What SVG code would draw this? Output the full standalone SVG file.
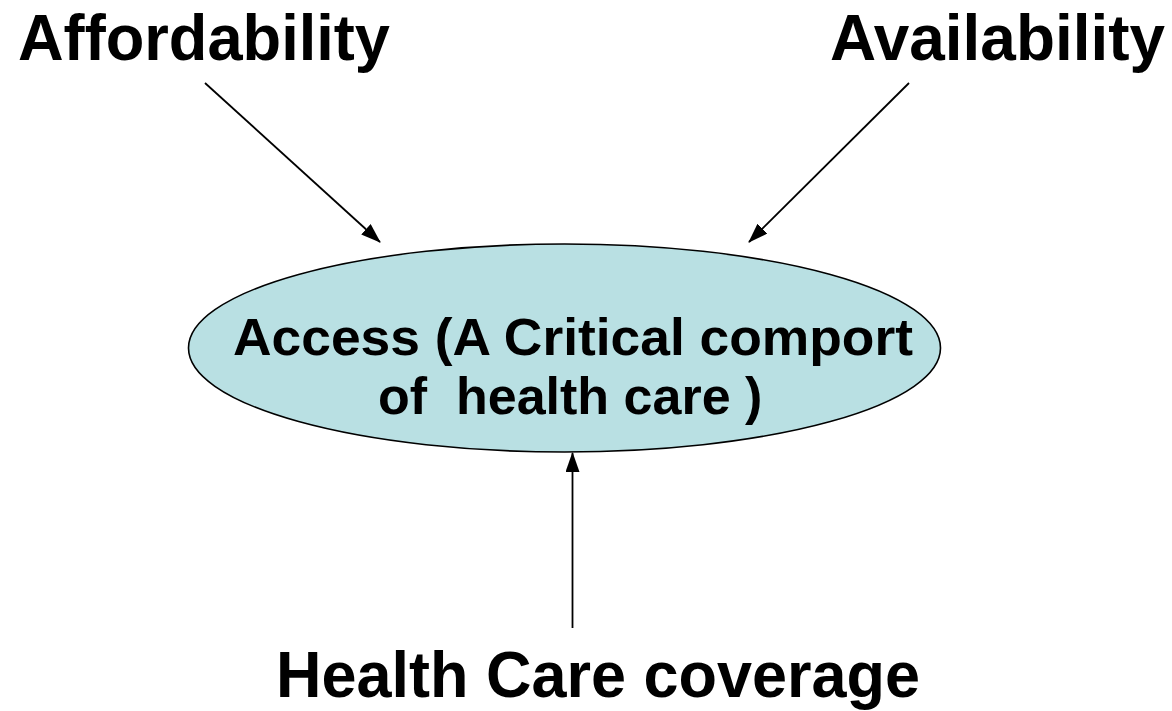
<svg xmlns="http://www.w3.org/2000/svg" width="1172" height="711" viewBox="0 0 1172 711">
<style>
.lbl{font-family:"Liberation Sans",Arial,sans-serif;font-weight:bold;fill:#000}
.conn{stroke:#000;stroke-width:1.8;fill:none;marker-end:url(#ah)}
</style>
<defs>
<marker id="ah" markerWidth="20" markerHeight="14" refX="19" refY="7" orient="auto" markerUnits="userSpaceOnUse" viewBox="0 0 20 14">
<path d="M0,0 L20,7 L0,14 z" fill="#000"/>
</marker>
</defs>
<rect width="1172" height="711" fill="#fff"/>
<g id="affordability"><text class="lbl" x="18" y="60" font-size="64" textLength="372" lengthAdjust="spacingAndGlyphs">Affordability</text></g>
<g id="availability"><text class="lbl" x="830" y="60" font-size="64" textLength="335" lengthAdjust="spacingAndGlyphs">Availability</text></g>
<g id="access">
<ellipse cx="564.5" cy="348" rx="376" ry="104" fill="#b9e0e3" stroke="#000" stroke-width="1.6"/>
<text class="lbl" x="233" y="355" font-size="52" textLength="680" lengthAdjust="spacingAndGlyphs">Access (A Critical comport</text>
<text class="lbl" x="378" y="414" font-size="52" xml:space="preserve">of  health care )</text>
</g>
<g id="coverage"><text class="lbl" x="276" y="697" font-size="65" textLength="644" lengthAdjust="spacingAndGlyphs">Health Care coverage</text></g>
<g id="connectors">
<line class="conn" x1="205" y1="83" x2="380" y2="242"/>
<line class="conn" x1="909" y1="83" x2="749" y2="242"/>
<line class="conn" x1="572.5" y1="628" x2="572.5" y2="453"/>
</g>
</svg>
